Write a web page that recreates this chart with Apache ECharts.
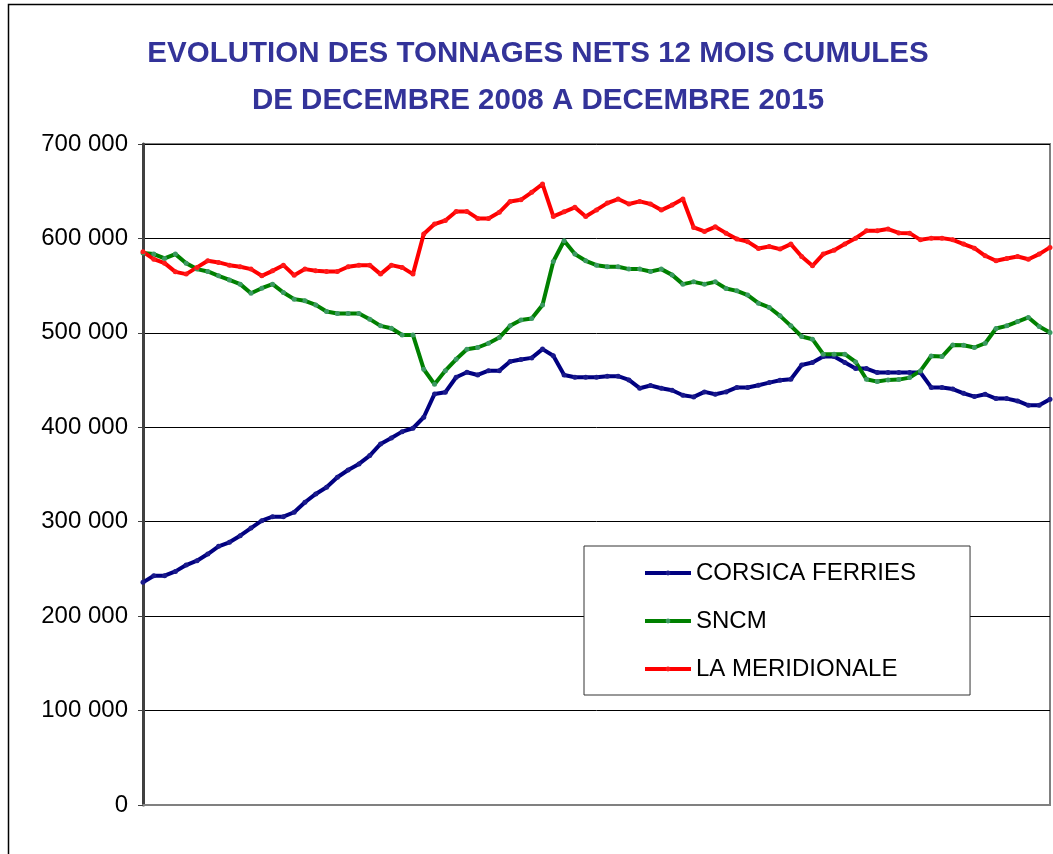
<!doctype html>
<html>
<head>
<meta charset="utf-8">
<title>Evolution des tonnages nets</title>
<script src="https://cdn.jsdelivr.net/npm/echarts@6/dist/echarts.min.js"></script>
<style>
  html, body { margin: 0; padding: 0; background: #fff; }
  #main { width: 1053px; height: 854px; }
</style>
</head>
<body>
<div id="main"></div>
<script>
// months, dec 2008 -> dec 2015 (85 points)
var monthNames = ['janv.', 'févr.', 'mars', 'avr.', 'mai', 'juin', 'juil.', 'août', 'sept.', 'oct.', 'nov.', 'déc.'];
var months = ['déc. 2008'];
for (var y = 2009; y <= 2015; y++) {
    for (var m = 0; m < 12; m++) months.push(monthNames[m] + ' ' + y);
}

var seriesNames = ['CORSICA FERRIES', 'SNCM', 'LA MERIDIONALE'];

// tonnages nets 12 mois cumules
var corsicaFerries = [
    235800, 242800, 242800, 247400, 254100, 258700, 265800, 273900, 278200, 285200,
    293300, 301100, 305300, 305300, 310000, 320600, 329400, 336500, 347100, 354800,
    361200, 370000, 382400, 388700, 395400, 399000, 410600, 435300, 437100, 453000,
    458300, 455400, 460000, 460000, 469700, 471800, 473500, 482800, 475700, 455400,
    453000, 453000, 453000, 454100, 454100, 450200, 441400, 444200, 441400, 439200,
    433900, 432200, 437500, 435000, 437500, 442200, 442200, 444500, 447300, 449800,
    450900, 466000, 468600, 474900, 474900, 468600, 462200, 462200, 458000, 458000,
    458000, 458000, 458000, 442200, 442200, 440500, 436000, 432500, 435000, 430400,
    430400, 427900, 423300, 423300, 429700
];
var sncm = [
    584500, 583400, 578800, 583400, 573800, 567500, 565000, 560400, 556100, 551600,
    542000, 547300, 551600, 542700, 535700, 533900, 529600, 522600, 520500, 520500,
    520500, 514500, 507400, 504900, 497800, 497800, 461500, 445600, 460000, 472000,
    482700, 484500, 489000, 495000, 507400, 513700, 515200, 529600, 575600, 597500,
    583400, 576300, 571700, 570000, 570000, 567500, 567500, 565000, 567500, 561400,
    551600, 554000, 551600, 554000, 547000, 544500, 540000, 531400, 526900, 518000,
    507400, 496100, 493300, 477400, 477400, 477400, 469200, 450900, 448400, 450200,
    450500, 452600, 459700, 475600, 474900, 487200, 486900, 484500, 489000, 504600,
    507400, 512000, 516300, 506700, 500400
];
var laMeridionale = [
    585800, 578000, 573800, 564600, 562200, 569300, 576300, 574600, 571700, 570000,
    567500, 560400, 565700, 571700, 561100, 567500, 565700, 565000, 565000, 570000,
    571700, 571700, 562200, 571700, 569300, 562200, 604600, 615200, 619000, 628600,
    628600, 621200, 621200, 627600, 639200, 640900, 648800, 657600, 623300, 628200,
    632900, 623300, 630200, 637400, 641700, 636400, 639200, 636400, 630000, 635300,
    641700, 611600, 607400, 612300, 605600, 599300, 596600, 589400, 591500, 588700,
    594000, 580900, 571000, 583400, 587600, 594000, 600300, 608100, 608100, 609900,
    605800, 605600, 598500, 600300, 600300, 598500, 594000, 589700, 581600, 576300,
    578800, 580900, 578000, 583400, 590500
];

var lineColors = ['#000080', '#008000', '#ff0000'];
var markerColors = ['#1a1a8c', '#3c9a62', '#ff1a1a'];

function fmtTonnes(v) {
    return String(v).replace(/\B(?=(\d{3})+(?!\d))/g, ' ');
}

var chart = echarts.init(document.getElementById('main'));

var seriesData = [corsicaFerries, sncm, laMeridionale];
var series = [];
for (var i = 0; i < seriesNames.length; i++) {
    series.push({
        name: seriesNames[i],
        type: 'line',
        data: seriesData[i],
        symbol: 'circle',
        symbolSize: 5,
        showSymbol: true,
        lineStyle: { color: lineColors[i], width: 4 },
        itemStyle: { color: markerColors[i], borderWidth: 0 },
        emphasis: { disabled: true }
    });
}

var option = {
    animation: false,
    backgroundColor: '#fff',
    title: {
        text: 'EVOLUTION DES TONNAGES NETS 12 MOIS CUMULES\nDE DECEMBRE 2008 A DECEMBRE 2015',
        left: 533,
        textAlign: 'center',
        top: 25,
        textStyle: {
            fontFamily: 'Liberation Sans',
            fontWeight: 'bold',
            fontSize: 29.5,
            lineHeight: 47,
            color: '#333399'
        }
    },
    legend: {
        orient: 'vertical',
        left: 584,
        top: 546,
        padding: [15, 54, 14, 59],
        backgroundColor: '#fff',
        borderColor: '#333',
        borderWidth: 1,
        itemWidth: 46,
        itemHeight: 6,
        itemGap: 24,
        lineStyle: { width: 4 },
        textStyle: {
            fontFamily: 'Liberation Sans',
            fontSize: 24,
            lineHeight: 24,
            color: '#000',
            padding: [0, 0, 0, 0]
        },
        data: seriesNames
    },
    grid: {
        left: 143,
        right: 3,
        top: 144,
        bottom: 49,
        show: true,
        borderColor: '#808080',
        borderWidth: 2
    },
    xAxis: {
        type: 'category',
        data: months,
        boundaryGap: false,
        axisLine: { lineStyle: { color: '#808080', width: 2 } },
        axisTick: { show: false },
        axisLabel: { show: false },
        splitLine: { show: false }
    },
    yAxis: {
        type: 'value',
        min: 0,
        max: 700000,
        interval: 100000,
        axisLine: { show: true, lineStyle: { color: '#404040', width: 3 } },
        axisTick: { show: true, length: 5, lineStyle: { color: '#404040' } },
        axisLabel: {
            margin: 15,
            fontFamily: 'Liberation Sans',
            fontSize: 24,
            color: '#000',
            formatter: fmtTonnes
        },
        splitLine: { show: true, lineStyle: { color: '#000', width: 1 } }
    },
    graphic: [{
        type: 'rect',
        silent: true,
        z: -10,
        shape: { x: 8.5, y: 4.5, width: 1100, height: 900 },
        style: { fill: null, stroke: '#000', lineWidth: 1.5 }
    }],
    series: series
};
chart.setOption(option);
</script>
</body>
</html>
